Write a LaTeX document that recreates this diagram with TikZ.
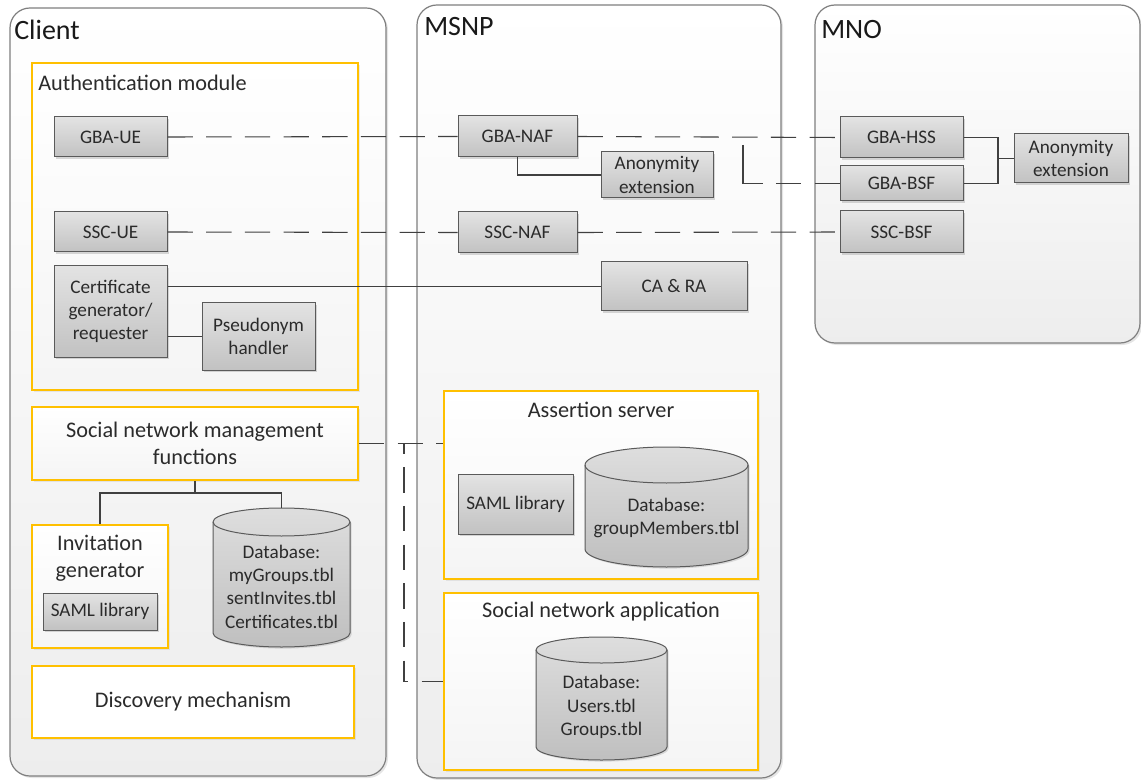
\documentclass[tikz,border=0pt]{standalone}
\usepackage{fontspec}
\setmainfont{Carlito}
\usetikzlibrary{shadows,fit,calc}
\definecolor{orng}{HTML}{FFC000}
\definecolor{txt}{HTML}{2B2B2B}
\definecolor{cborder}{HTML}{7F7F7F}
\definecolor{gborder}{HTML}{5A5A5A}
\definecolor{ln}{HTML}{404040}
\newcommand\mydbcyl[7]{% name,x1,y1,x2,y2,ry,text
  \pgfmathsetmacro\cxm{(#2+#4)/2}%
  \pgfmathsetmacro\crx{(#4-#2)/2}%
  \pgfmathsetmacro\kx{0.5523*\crx}%
  \pgfmathsetmacro\ky{0.5523*#6}%
  \pgfmathsetmacro\yt{#3+#6}%
  \pgfmathsetmacro\yb{#5-#6}%
  \pgfmathsetmacro\yf{#3+2*#6}%
  \pgfmathsetmacro\ytext{(#3+#5)/2+#6/2+2}%
  \path[draw=gborder, line width=0.75pt, top color=black!13, bottom color=black!25,
        drop shadow={shadow xshift=1.2pt, shadow yshift=-1.2pt, opacity=0.25}]
    (#2,\yt) -- (#2,\yb) .. controls (#2,\yb+\ky) and (\cxm-\kx,#5) .. (\cxm,#5)
    .. controls (\cxm+\kx,#5) and (#4,\yb+\ky) .. (#4,\yb) -- (#4,\yt)
    .. controls (#4,\yt-\ky) and (\cxm+\kx,#3) .. (\cxm,#3)
    .. controls (\cxm-\kx,#3) and (#2,\yt-\ky) .. (#2,\yt) -- cycle;
  \draw[gborder, line width=0.75pt] (#2,\yt) .. controls (#2,\yt+\ky) and (\cxm-\kx,\yf) .. (\cxm,\yf)
    .. controls (\cxm+\kx,\yf) and (#4,\yt+\ky) .. (#4,\yt);
  \node[inner sep=0, fit={(#2,#3)(#4,#5)}] (#1) {};
  \node[smalltext] (#1-text) at (\cxm,\ytext) {#7};
}
\begin{document}
\begin{tikzpicture}[x=0.75pt, y=-0.75pt,
  container/.style={inner sep=0, draw=cborder, line width=0.9pt, rounded corners=15pt,
     top color=white, bottom color=black!7,
     drop shadow={shadow xshift=1.5pt, shadow yshift=-1.5pt, opacity=0.2}},
  obox/.style={inner sep=0, draw=orng, line width=1.5pt, top color=white, bottom color=black!4,
     drop shadow={shadow xshift=1.2pt, shadow yshift=-1.2pt, opacity=0.15}},
  graybox/.style={inner sep=0, draw=gborder, line width=0.75pt, top color=black!11, bottom color=black!24,
     drop shadow={shadow xshift=1.2pt, shadow yshift=-1.2pt, opacity=0.3}},
  smalltext/.style={inner sep=0, font=\fontsize{14.4}{17.5}\selectfont, text=txt, align=center},
  lbl/.style={inner sep=0, font=\fontsize{16.7}{20}\selectfont, text=txt, align=center},
  title/.style={inner sep=0, font=\fontsize{21}{25}\selectfont, text=black!90},
  conn/.style={draw=ln, line width=0.8pt},
  dl/.style={draw=ln, line width=0.8pt, dash pattern=on 19pt off 10pt}]
\useasboundingbox (0,0) rectangle (1141,780);
\fill[white] (0,0) rectangle (1141,780);

% containers
\node[container, fit={(10,8)(386,776)}] (client) {};
\node[container, fit={(417,5)(781,778)}] (msnp) {};
\node[container, fit={(815,5)(1140,343)}] (mno) {};
\node[title, anchor=west] (clientlbl) at (14,30) {Client};
\node[title, anchor=west] (msnplbl) at (424,27) {MSNP};
\node[title, anchor=west] (mnolbl) at (821,30) {MNO};

% client
\node[obox, fit={(32,63)(358,390)}] (auth) {};
\node[lbl, anchor=west] (authlbl) at (38,83) {Authentication module};
\node[graybox, fit={(54,117)(167,157)}] (gbaue) {};
\node[smalltext] (gbaue-t) at (gbaue) {GBA-UE};
\node[graybox, fit={(54,212)(167,252)}] (sscue) {};
\node[smalltext] (sscue-t) at (sscue) {SSC-UE};
\node[graybox, fit={(54,266)(167,357)}] (cert) {};
\node[smalltext] (cert-t) at (cert) {Certificate\\generator/\\requester};
\node[graybox, fit={(202,303)(315,370)}] (pseud) {};
\node[smalltext] (pseud-t) at (pseud) {Pseudonym\\handler};
\node[obox, fit={(32,407)(358,480)}] (snmf) {};
\node[lbl] (snmf-t) at (snmf) {Social network management\\functions};
\node[obox, fit={(32,525)(168,648)}] (inv) {};
\node[lbl] (invlbl) at (100,558) {Invitation\\generator};
\node[graybox, fit={(43,593)(157,630)}] (saml1) {};
\node[smalltext] (saml1-t) at (saml1) {SAML library};
\mydbcyl{db1}{213}{508}{350}{647}{14}{Database:\\myGroups.tbl\\sentInvites.tbl\\Certificates.tbl}
\node[obox, top color=white, bottom color=white, fit={(32,666)(354,738)}] (disc) {};
\node[lbl] (disc-t) at (disc) {Discovery mechanism};

% MSNP
\node[graybox, fit={(458,116)(577,157)}] (naf) {};
\node[smalltext] (naf-t) at (naf) {GBA-NAF};
\node[graybox, fit={(601,152)(713,198)}] (anon1) {};
\node[smalltext] (anon1-t) at (anon1) {Anonymity\\extension};
\node[graybox, fit={(458,212)(577,253)}] (sscnaf) {};
\node[smalltext] (sscnaf-t) at (sscnaf) {SSC-NAF};
\node[graybox, fit={(601,262)(747,311)}] (cara) {};
\node[smalltext] (cara-t) at (cara) {CA \& RA};
\node[obox, fit={(444,391)(758,579)}] (asrv) {};
\node[lbl] (asrvlbl) at (601,410) {Assertion server};
\node[graybox, fit={(458,474)(573,534)}] (saml2) {};
\node[smalltext] (saml2-t) at (saml2) {SAML library};
\mydbcyl{db2}{585}{447}{748}{567}{18}{Database:\\groupMembers.tbl}
\node[obox, fit={(444,593)(758,770)}] (sna) {};
\node[lbl] (snalbl) at (601,612) {Social network application};
\mydbcyl{db3}{536}{637}{667}{760}{13}{Database:\\Users.tbl\\Groups.tbl}

% MNO
\node[graybox, fit={(840,117)(963,158)}] (hss) {};
\node[smalltext] (hss-t) at (hss) {GBA-HSS};
\node[graybox, fit={(840,166)(963,201)}] (bsf) {};
\node[smalltext] (bsf-t) at (bsf) {GBA-BSF};
\node[graybox, fit={(840,211)(963,253)}] (sscbsf) {};
\node[smalltext] (sscbsf-t) at (sscbsf) {SSC-BSF};
\node[graybox, fit={(1014,134)(1128,183)}] (anon2) {};
\node[smalltext] (anon2-t) at (anon2) {Anonymity\\extension};

% dashed connectors
\draw[dl] (gbaue.east) -- (naf.west);
\draw[dl] (naf.east) -- (hss.west);
\coordinate (br) at (743,137);
\draw[dl, dash pattern=on 0pt off 6pt on 43.5pt off 10pt on 19pt off 10pt on 19pt off 10pt] (br) |- (bsf.west);
\draw[dl] (sscue.east) -- (sscnaf.west);
\draw[dl] (sscnaf.east) -- (sscbsf.west);
\draw[dl] (snmf.east) -- (snmf.east -| asrv.west);
\coordinate (sv) at (404,443.5);
\draw[dl, dash phase=11.25pt] (sv) |- (sna.west);

% solid connectors
\draw[conn] (cert.east |- cara.west) -- (cara.west);
\draw[conn] (cert.east |- pseud.west) -- (pseud.west);
\draw[conn] (naf.south) |- (anon1.west);
\coordinate (jx) at (998,158.5);
\draw[conn] (hss.east) -| (jx) |- (bsf.east);
\draw[conn] (jx) -- (anon2.west);
\coordinate (sj) at (195,493);
\draw[conn] (snmf.south) -- (sj);
\draw[conn] (inv.north) |- (sj) -| (db1.north);
\end{tikzpicture}
\end{document}
